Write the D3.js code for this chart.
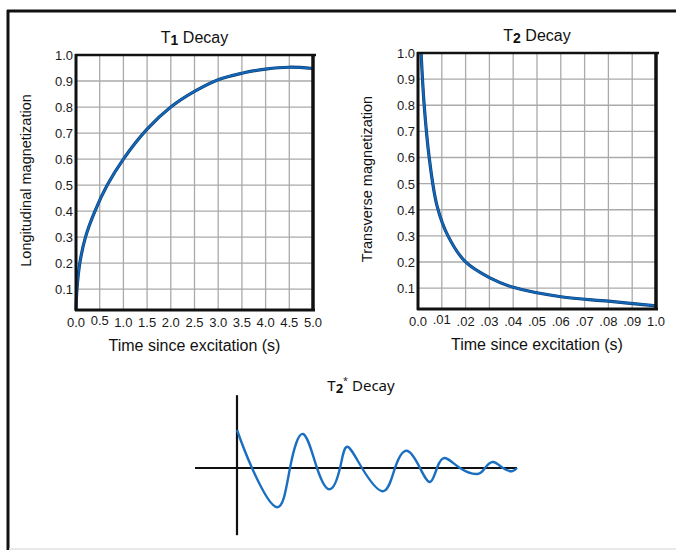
<!DOCTYPE html>
<html>
<head>
<meta charset="utf-8">
<script src="https://cdn.jsdelivr.net/npm/d3@7"></script>
<style>
  body { margin: 0; background: #fff; }
  svg { display: block; font-family: "Liberation Sans", Arial, sans-serif; }
</style>
</head>
<body>
<div id="chart"></div>
<script>
// T1 recovery curve (time in s, longitudinal magnetization)
const t1Time = [0, 0.02, 0.08, 0.2, 0.4, 0.66, 1.0, 1.5, 2.0, 2.5, 3.0, 3.5, 4.0, 4.5, 5.0]
const t1Value = [0.02, 0.1, 0.2, 0.3, 0.4, 0.5, 0.6, 0.715, 0.8, 0.86, 0.905, 0.93, 0.946, 0.953, 0.948]
const t1Ticks = ['0.0', '0.5', '1.0', '1.5', '2.0', '2.5', '3.0', '3.5', '4.0', '4.5', '5.0']

// T2 decay curve (time in s, transverse magnetization)
const t2Time = [0.0013, 0.0026, 0.0047, 0.008, 0.0126, 0.02, 0.03, 0.04, 0.06, 0.08, 0.1]
const t2Value = [1.0, 0.8, 0.6, 0.415, 0.3, 0.2, 0.14, 0.103, 0.067, 0.05, 0.032]
const t2Ticks = ['0.0', '.01', '.02', '.03', '.04', '.05', '.06', '.07', '.08', '.09', '1.0']

const yTicks = ['0.1', '0.2', '0.3', '0.4', '0.5', '0.6', '0.7', '0.8', '0.9', '1.0']

// T2* free induction decay (arbitrary units)
const fidTime = [0, 1.5, 4.0, 5.3, 6.6, 8.0, 9.3, 10.3, 11.0, 12.5, 14.6, 15.8, 17.0, 18.3, 19.3, 20.0, 20.8, 22.3, 24.0, 24.8, 25.6, 26.6, 27.5, 28.0]
const fidValue = [0.95, 0, -0.98, 0, 0.85, 0, -0.53, 0, 0.53, 0, -0.58, 0, 0.43, 0, -0.35, 0, 0.25, 0, -0.15, 0, 0.15, 0, -0.08, 0]

const width = 676, height = 550
const blue = '#1366b8'

const svg = d3.select('#chart').append('svg')
  .attr('width', width)
  .attr('height', height)

// outer frame
svg.append('line').attr('x1', 7).attr('x2', width).attr('y1', 11).attr('y2', 11)
  .attr('stroke', '#111').attr('stroke-width', 3)
svg.append('line').attr('x1', 8).attr('x2', 8).attr('y1', 10).attr('y2', height)
  .attr('stroke', '#111').attr('stroke-width', 3)
svg.append('line').attr('x1', 9).attr('x2', width).attr('y1', 549).attr('y2', 549)
  .attr('stroke', '#e2e2e2').attr('stroke-width', 1.5)

function drawPanel(opt) {
  const g = svg.append('g').attr('transform', 'translate(' + opt.left + ',' + opt.top + ')')

  const x = d3.scaleLinear().domain([0, opt.xMax]).range([0, opt.w])
  const y = d3.scaleLinear().domain([0.02, 1]).range([opt.h, 0])
  const xStep = opt.xMax / 10

  // grid
  g.selectAll('.vgrid')
    .data(d3.range(1, 10))
    .enter()
    .append('line')
    .attr('x1', i => x(i * xStep)).attr('x2', i => x(i * xStep))
    .attr('y1', 0).attr('y2', opt.h)
    .attr('stroke', '#aaa').attr('stroke-width', 1.3)

  g.selectAll('.hgrid')
    .data(d3.range(1, 10))
    .enter()
    .append('line')
    .attr('x1', 0).attr('x2', opt.w)
    .attr('y1', i => y(i / 10)).attr('y2', i => y(i / 10))
    .attr('stroke', '#aaa').attr('stroke-width', 1.3)

  // curve
  const line = d3.line()
    .x((d, i) => x(opt.xs[i]))
    .y(d => y(d))
    .curve(d3.curveCatmullRom.alpha(0.5))

  g.append('path')
    .datum(opt.ys)
    .attr('d', line)
    .attr('fill', 'none')
    .attr('stroke', '#0d3f73')
    .attr('stroke-width', 3.2)
  g.append('path')
    .datum(opt.ys)
    .attr('d', line)
    .attr('fill', 'none')
    .attr('stroke', blue)
    .attr('stroke-width', 2)

  // frame
  g.append('line').attr('x1', -1).attr('x2', opt.w + 3).attr('y1', 0).attr('y2', 0)
    .attr('stroke', '#111').attr('stroke-width', 2.5)
  g.append('line').attr('x1', 0).attr('x2', 0).attr('y1', -1).attr('y2', opt.h + 1)
    .attr('stroke', '#111').attr('stroke-width', 3)
  g.append('line').attr('x1', -1).attr('x2', opt.w + 2).attr('y1', opt.h).attr('y2', opt.h)
    .attr('stroke', '#111').attr('stroke-width', 3)
  g.append('line').attr('x1', opt.w).attr('x2', opt.w).attr('y1', -1).attr('y2', opt.h + 1)
    .attr('stroke', '#111').attr('stroke-width', 3.5)

  // y tick labels
  g.selectAll('.ylab')
    .data(yTicks)
    .enter()
    .append('text')
    .attr('x', -3)
    .attr('y', (d, i) => y((i + 1) / 10) + 5)
    .attr('text-anchor', 'end')
    .style('font-size', '13px')
    .attr('fill', '#1a1a1a')
    .text(d => d)

  // x tick labels
  g.selectAll('.xlab')
    .data(opt.ticks)
    .enter()
    .append('text')
    .attr('x', (d, i) => x(i * xStep))
    .attr('y', (d, i) => opt.h + (i == 1 ? 15 : 17))
    .attr('text-anchor', 'middle')
    .style('font-size', '13px')
    .attr('fill', '#1a1a1a')
    .text(d => d)

  // axis titles
  g.append('text')
    .attr('x', opt.w / 2)
    .attr('y', opt.h + 41)
    .attr('text-anchor', 'middle')
    .style('font-size', '16px')
    .attr('fill', '#111')
    .text('Time since excitation (s)')

  g.append('text')
    .attr('transform', 'translate(' + opt.yTitleX + ',' + (opt.h / 2 - 2) + ') rotate(-90)')
    .attr('text-anchor', 'middle')
    .style('font-size', '14.5px')
    .attr('fill', '#111')
    .text(opt.yTitle)

  // panel title with subscript
  const title = g.append('text')
    .attr('x', opt.w / 2)
    .attr('y', -12)
    .attr('text-anchor', 'middle')
    .style('font-size', '16px')
    .attr('fill', '#111')
  title.append('tspan').text('T')
  title.append('tspan').attr('dy', 2).style('font-weight', 'bold').style('font-size', '14px').text(opt.sub)
  title.append('tspan').attr('dy', -2).text(' Decay')
}

drawPanel({
  left: 76, top: 55, w: 237, h: 255,
  xMax: 5, xs: t1Time, ys: t1Value, ticks: t1Ticks,
  yTitle: 'Longitudinal magnetization', yTitleX: -45, sub: '1'
})

drawPanel({
  left: 418, top: 53, w: 238, h: 256,
  xMax: 0.1, xs: t2Time, ys: t2Value, ticks: t2Ticks,
  yTitle: 'Transverse magnetization', yTitleX: -46, sub: '2'
})

// T2* panel
const fx = d3.scaleLinear().domain([0, 28]).range([237, 517])
const fy = d3.scaleLinear().domain([0, 1]).range([468, 428])

svg.append('line')
  .attr('x1', fx(-4.2)).attr('x2', fx(28))
  .attr('y1', fy(0)).attr('y2', fy(0))
  .attr('stroke', '#111').attr('stroke-width', 2.2)
svg.append('line')
  .attr('x1', fx(0)).attr('x2', fx(0))
  .attr('y1', fy(1.82)).attr('y2', fy(-1.68))
  .attr('stroke', '#111').attr('stroke-width', 2.2)

const fidLine = d3.line()
  .x((d, i) => fx(fidTime[i]))
  .y(d => fy(d))
  .curve(d3.curveNatural)

svg.append('path')
  .datum(fidValue)
  .attr('d', fidLine)
  .attr('fill', 'none')
  .attr('stroke', '#1a6fc0')
  .attr('stroke-width', 2.4)

const t2s = svg.append('text')
  .attr('x', 361)
  .attr('y', 391)
  .attr('text-anchor', 'middle')
  .style('font-family', '"Noto Sans", sans-serif')
  .style('font-size', '15px')
  .attr('fill', '#111')
t2s.append('tspan').text('T')
t2s.append('tspan').attr('dy', 2).style('font-weight', 'bold').style('font-size', '13px').text('2')
t2s.append('tspan').attr('dy', -9).style('font-size', '9px').text('*')
t2s.append('tspan').attr('dy', 7).text(' Decay')
</script>
</body>
</html>
